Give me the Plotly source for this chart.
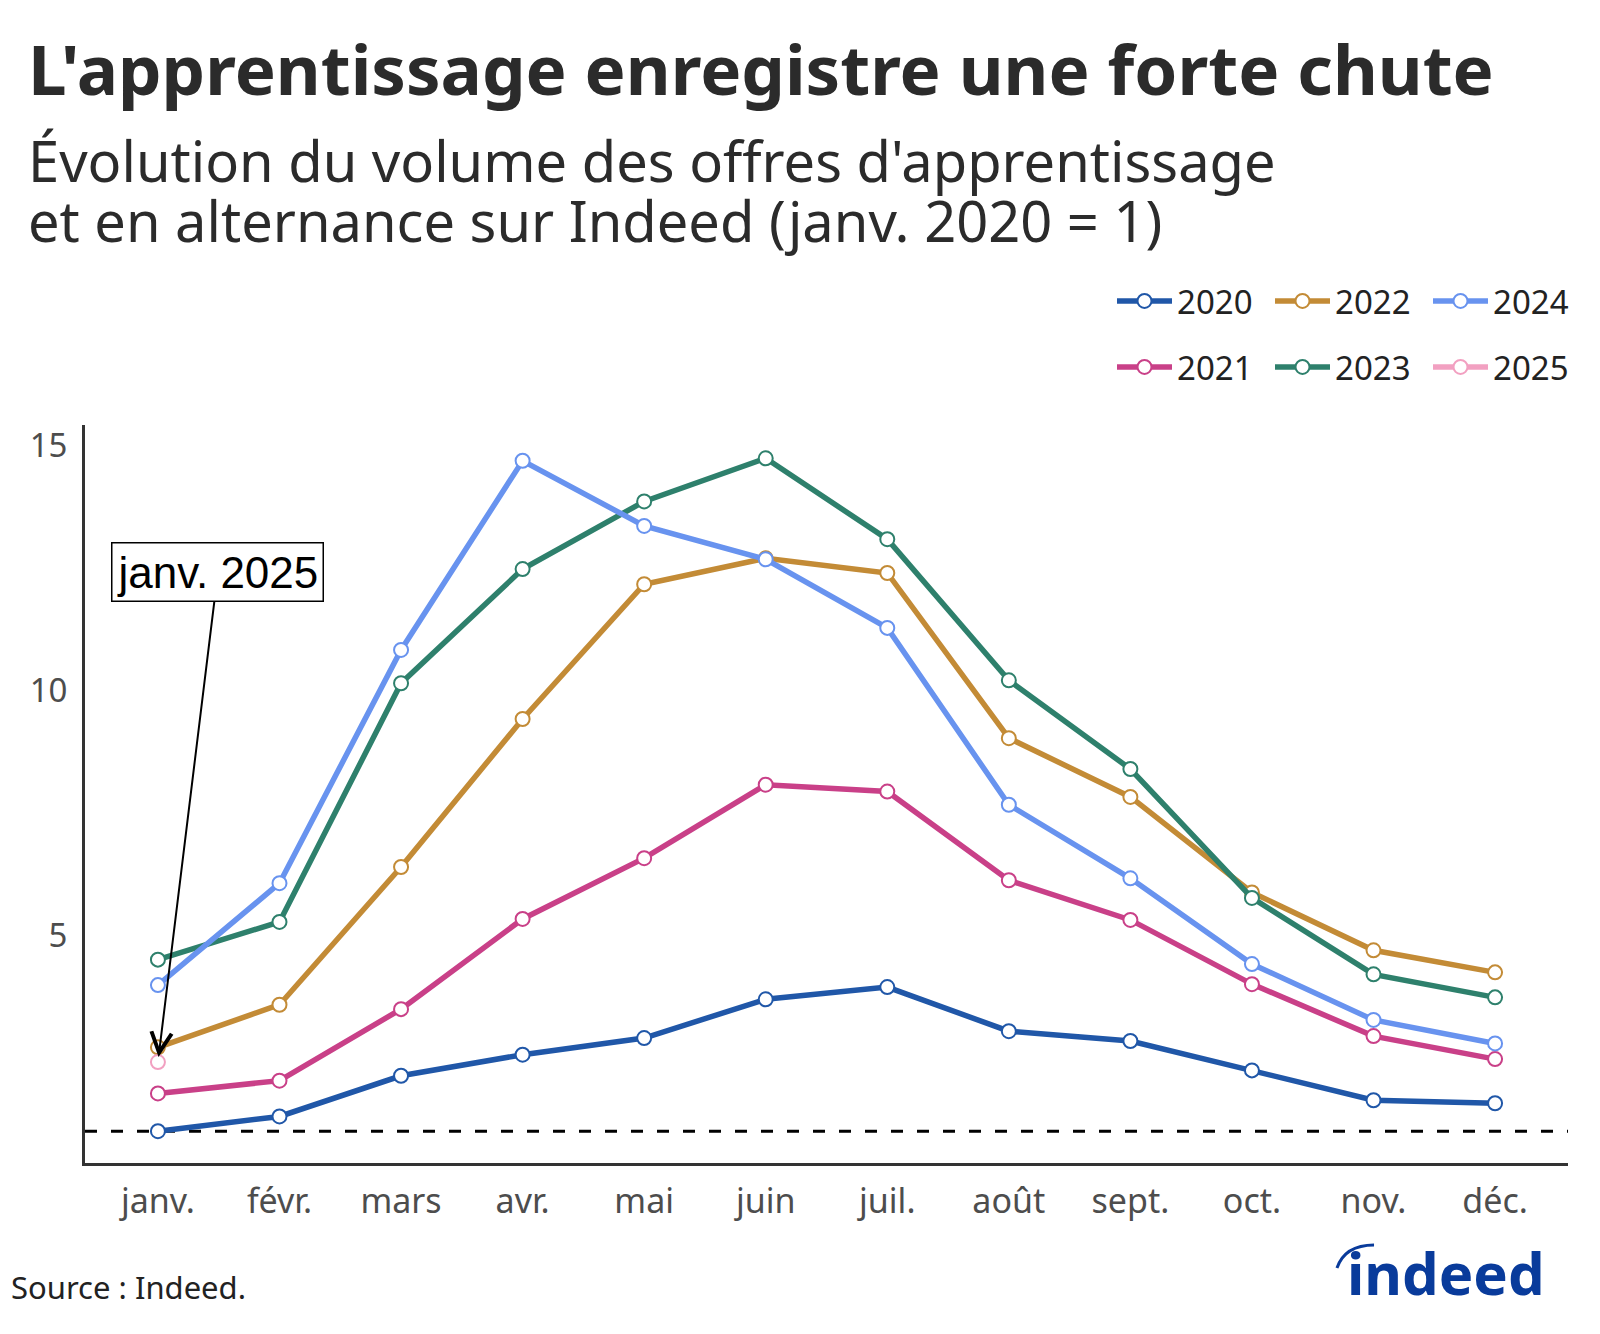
import plotly.graph_objects as go

# ---------------- data ----------------
MONTHS = ["janv.", "févr.", "mars", "avr.", "mai", "juin", "juil.", "août", "sept.", "oct.", "nov.", "déc."]
Y2020 = [1.00, 1.30, 2.13, 2.56, 2.90, 3.69, 3.94, 3.04, 2.84, 2.24, 1.63, 1.57]
Y2021 = [1.77, 2.03, 3.49, 5.33, 6.57, 8.07, 7.93, 6.12, 5.31, 4.00, 2.94, 2.47]
Y2022 = [2.71, 3.58, 6.39, 9.41, 12.16, 12.69, 12.39, 9.02, 7.82, 5.87, 4.69, 4.24]
Y2023 = [4.50, 5.27, 10.14, 12.47, 13.85, 14.73, 13.08, 10.20, 8.39, 5.76, 4.20, 3.73]
Y2024 = [3.98, 6.06, 10.82, 14.68, 13.35, 12.67, 11.27, 7.66, 6.16, 4.41, 3.27, 2.79]
Y2025 = [2.41]
YEARS = ["2020", "2021", "2022", "2023", "2024", "2025"]
SERIES = [Y2020, Y2021, Y2022, Y2023, Y2024, Y2025]
COLORS = ["#2057A8", "#C94088", "#C38B36", "#2E806C", "#6893EF", "#F2A0C1"]
LEGEND_OF = ["legend", "legend2", "legend", "legend2", "legend", "legend2"]
REFERENCE = 1
Y_TICKS = [5, 10, 15]

TITLE = "L'apprentissage enregistre une forte chute"
SUBTITLE_1 = "Évolution du volume des offres d'apprentissage"
SUBTITLE_2 = "et en alternance sur Indeed (janv. 2020 = 1)"
SOURCE = "Source : Indeed."
ANNOT = "janv. 2025"

# ---------------- layout geometry (page pixel coords) ----------------
OFF = 8  # default body margin of the html page
W, H = 1600 - OFF, 1334 - OFF
L, R, T, B = 85, 1568, 425, 1163
PW, PH = R - L, B - T


def px(x):
    return (x - L) / PW


def py(y):
    return (B - y) / PH


FONT = "Noto Sans"

fig = go.Figure()
for name, ys, col, lg in zip(YEARS, SERIES, COLORS, LEGEND_OF):
    fig.add_trace(go.Scatter(
        x=MONTHS[:len(ys)], y=ys, name=name, legend=lg,
        mode="lines+markers",
        line=dict(color=col, width=5.5),
        marker=dict(size=14, color="white", line=dict(color=col, width=2)),
        cliponaxis=False,
    ))

fig.add_shape(type="line", xref="paper", x0=0, x1=1, yref="y", y0=REFERENCE, y1=REFERENCE,
              line=dict(color="black", width=3, dash="12px,14px"), layer="below")

ann = []
ann.append(dict(text="<b>" + TITLE + "</b>", xref="paper", yref="paper", x=px(26), y=py(68),
                xanchor="left", yanchor="middle", showarrow=False,
                font=dict(family=FONT, size=69, color="#2b2b2b")))
ann.append(dict(text=SUBTITLE_1, xref="paper", yref="paper", x=px(26), y=py(160),
                xanchor="left", yanchor="middle", showarrow=False, align="left",
                font=dict(family=FONT, size=56, color="#2b2b2b")))
ann.append(dict(text=SUBTITLE_2, xref="paper", yref="paper", x=px(26), y=py(220),
                xanchor="left", yanchor="middle", showarrow=False, align="left",
                font=dict(family=FONT, size=56, color="#2b2b2b")))
ann.append(dict(text=SOURCE, xref="paper", yref="paper", x=px(OFF + 1), y=py(1287),
                xanchor="left", yanchor="middle", showarrow=False,
                font=dict(family=FONT, size=31, color="#222222")))
ann.append(dict(text="<b>indeed</b>", xref="paper", yref="paper", x=px(1345), y=py(1272),
                xanchor="left", yanchor="middle", showarrow=False,
                font=dict(family=FONT, size=58, color="#093B9B")))
ann.append(dict(text=ANNOT, x=MONTHS[0], y=Y2025[0], xref="x", yref="y",
                ax=60, ay=-490, showarrow=True, arrowhead=5, arrowsize=2, arrowwidth=2,
                arrowcolor="black", standoff=5,
                bgcolor="white", bordercolor="black", borderwidth=1.5, borderpad=4,
                font=dict(family="Liberation Sans", size=44, color="black")))

fig.add_shape(type="path", xref="paper", yref="paper",
              path="M {:.4f},{:.4f} Q {:.4f},{:.4f} {:.4f},{:.4f}".format(
                  px(1337), py(1268), px(1345), py(1245), px(1374), py(1245)),
              line=dict(color="#093B9B", width=3))

legend_common = dict(orientation="h", xanchor="left", yanchor="middle",
                     font=dict(family=FONT, size=33, color="#222222"),
                     entrywidth=88, entrywidthmode="pixels", itemwidth=55,
                     bgcolor="rgba(0,0,0,0)", itemclick=False, itemdoubleclick=False)

fig.update_layout(
    width=W, height=H,
    margin=dict(l=L - OFF, r=W - (R - OFF), t=T - OFF, b=H - (B - OFF), pad=0, autoexpand=False),
    paper_bgcolor="white", plot_bgcolor="white",
    font=dict(family=FONT, color="#4d4d4d"),
    showlegend=True,
    legend=dict(x=px(1112), y=py(301), **legend_common),
    legend2=dict(x=px(1112), y=py(367), **legend_common),
    xaxis=dict(range=[-0.6, 11.6], showgrid=False, zeroline=False,
               showline=True, linecolor="#333333", linewidth=3,
               ticks="", tickfont=dict(family=FONT, size=34, color="#4d4d4d"),
               ticklabelstandoff=6, fixedrange=True),
    yaxis=dict(range=[0.35, 15.41], showgrid=False, zeroline=False,
               showline=True, linecolor="#333333", linewidth=3,
               tickvals=Y_TICKS, ticks="", tickfont=dict(family=FONT, size=33, color="#4d4d4d"),
               ticklabelstandoff=8, fixedrange=True),
    annotations=ann,
)

fig.write_html("out.html")
